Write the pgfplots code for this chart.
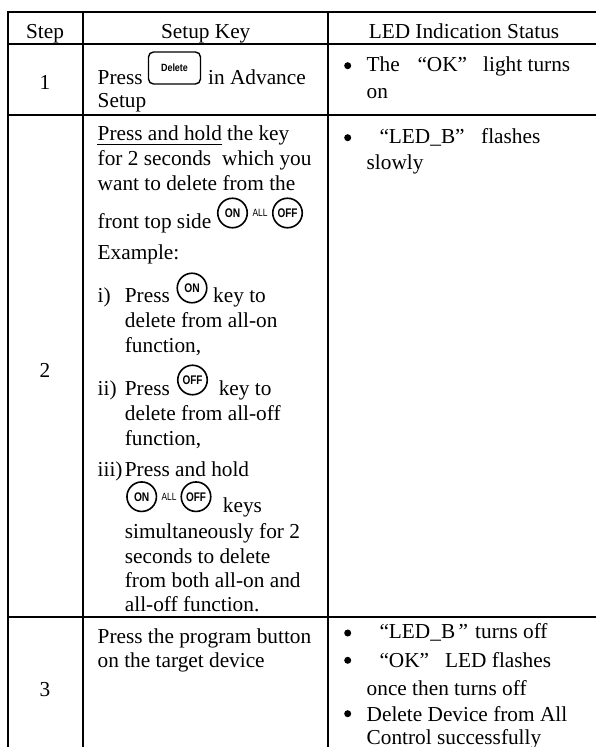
\documentclass[border=0pt]{standalone}
\usepackage{fontspec}
\usepackage{graphicx}
\usepackage{pgfplots}
\pgfplotsset{compat=1.18}
\setmainfont{Liberation Serif}
\newfontfamily\iconfont{Liberation Sans}
\tikzset{
  txt/.style={anchor=base west, inner sep=0pt, font=\fontsize{21.3bp}{24bp}\selectfont},
  ctr/.style={anchor=base, inner sep=0pt, font=\fontsize{21.3bp}{24bp}\selectfont},
  ring/.style={circle, draw=black, line width=1.6bp, minimum size=#1bp, inner sep=0pt},
}
\newcommand{\T}[3]{\node[txt] at (axis cs:#1,#2) {#3};}
\newcommand{\C}[3]{\node[ctr] at (axis cs:#1,#2) {#3};}
\newcommand{\ON}[2]{\node[ring=29.5] at (axis cs:#1,#2) {\iconfont\bfseries\fontsize{12.5bp}{12.5bp}\selectfont\scalebox{0.82}[1]{ON}};}
\newcommand{\OFF}[2]{\node[ring=29.5] at (axis cs:#1,#2) {\iconfont\bfseries\fontsize{12.5bp}{12.5bp}\selectfont\scalebox{0.8}[1]{OFF}};}
\newcommand{\ALL}[2]{\node[inner sep=0pt] at (axis cs:#1,#2) {\iconfont\fontsize{10.5bp}{10.5bp}\selectfont\scalebox{0.8}[1]{ALL}};}
\newcommand{\B}[2]{\node[circle, fill=black, inner sep=0pt, minimum size=7bp] at (axis cs:#1,#2) {};}
\begin{document}
\begin{tikzpicture}
\begin{axis}[
  scale only axis, width=596bp, height=747bp,
  xmin=0, xmax=596, ymin=0, ymax=747, y dir=reverse,
  hide axis, clip=true,
]
% page extent
\addplot[white, line width=0.1pt, forget plot] coordinates {(0,0) (596,0) (596,747) (0,747) (0,0)};
% table rules
\addplot[black, line width=1.7bp, forget plot] coordinates {(8,12) (596,12)};
\addplot[black, line width=1.7bp, forget plot] coordinates {(8,43.7) (596,43.7)};
\addplot[black, line width=1.7bp, forget plot] coordinates {(8,114.7) (596,114.7)};
\addplot[black, line width=1.7bp, forget plot] coordinates {(8,616.7) (596,616.7)};
\addplot[black, line width=1.7bp, forget plot] coordinates {(8,11) (8,747)};
\addplot[black, line width=1.7bp, forget plot] coordinates {(82.7,11) (82.7,747)};
\addplot[black, line width=1.7bp, forget plot] coordinates {(328,11) (328,747)};
% underline
\addplot[black, line width=0.8bp, forget plot] coordinates {(97.3,144) (221.7,144)};
% header
\C{45}{38.3}{Step}
\C{205.7}{38.3}{Setup Key}
\C{464}{38.3}{LED Indication Status}
% step numbers
\C{45}{90}{1}
\C{45}{377}{2}
\C{45}{696}{3}
% row 1
\T{97.5}{85}{Press}
\node[draw=black, line width=1.4bp, rounded corners=5bp, minimum width=52bp, minimum height=32bp, inner sep=0pt] at (axis cs:174.5,68) {\iconfont\bfseries\fontsize{10.5bp}{10.5bp}\selectfont\scalebox{0.85}[1]{Delete}};
\T{208}{85}{in Advance}
\T{97.5}{108}{Setup}
\B{347.7}{65.7}
\T{366.5}{71.7}{The}
\T{417.3}{71.7}{“OK”}
\T{483}{71.7}{light turns}
\T{366.5}{99}{on}
% row 2 middle column
\T{97.5}{141}{Press and hold}
\T{227}{141}{the key}
\T{97.5}{166}{for 2 seconds}
\T{222}{166}{which you}
\T{97.5}{190.7}{want to delete from the}
\T{97.5}{228}{front top side}
\ON{232.5}{213}
\ALL{260}{212.5}
\OFF{287.5}{213}
\T{97.5}{259}{Example:}
\T{97.5}{302.7}{i)}
\T{124.7}{302.7}{Press}
\ON{192}{288}
\T{213}{302.7}{key to}
\T{124.7}{327}{delete from all-on}
\T{124.7}{352}{function,}
\T{97.5}{395.7}{ii)}
\T{124.7}{395.7}{Press}
\OFF{192.5}{380}
\T{218.6}{395.7}{key to}
\T{124.7}{420}{delete from all-off}
\T{124.7}{445}{function,}
\T{97.5}{476.5}{iii)}
\T{124.7}{476.5}{Press and hold}
\ON{141.7}{496.7}
\ALL{169}{496.5}
\OFF{196}{496.7}
\T{222.7}{512.7}{keys}
\T{124.7}{538}{simultaneously for 2}
\T{124.7}{563}{seconds to delete}
\T{124.7}{587}{from both all-on and}
\T{124.7}{611.7}{all-off function.}
% row 2 right column
\B{347.7}{137.7}
\T{379.3}{144}{“LED\_B”}
\T{481}{144}{flashes}
\T{366.5}{170}{slowly}
% row 3
\T{97.5}{643}{Press the program button}
\T{97.5}{667}{on the target device}
\B{347.7}{633}
\T{379.3}{638.7}{“LED\_B}
\T{458.3}{638.7}{”}
\T{475}{638.7}{turns off}
\B{347.7}{660.3}
\T{379.3}{667.7}{“OK”}
\T{445}{667.7}{LED flashes}
\T{366.5}{695.3}{once then turns off}
\B{347.7}{713.7}
\T{366.5}{721}{Delete Device from All}
\T{366.5}{744.7}{Control successfully}
\end{axis}
\end{tikzpicture}
\end{document}
